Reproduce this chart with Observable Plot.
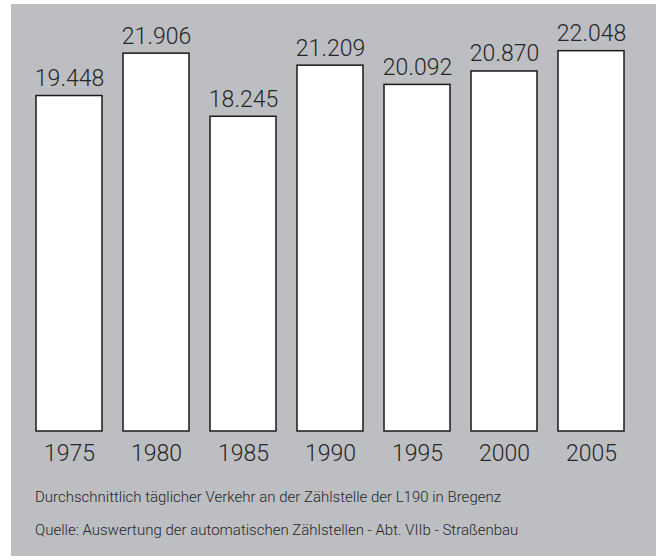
<!DOCTYPE html>
<html>
<head>
<meta charset="utf-8">
<script src="https://cdn.jsdelivr.net/npm/d3@7"></script>
<script src="https://cdn.jsdelivr.net/npm/@observablehq/plot@0.6"></script>
<style>
  html, body { margin: 0; padding: 0; background: #ffffff; }
  #panel {
    position: absolute; left: 11px; top: 4px; width: 645px; height: 552px;
    background: #bdbec2;
    font-family: Roboto, sans-serif;
    font-weight: 300;
    color: #262626;
  }
  #chart svg { display: block; }
  #chart text { font-weight: 300; }
  .cap { position: absolute; left: 24px; font-size: 15px; line-height: 1; }
</style>
</head>
<body>
<div id="panel">
  <div id="chart"></div>
  <div class="cap" style="top:486px">Durchschnittlich täglicher Verkehr an der Zählstelle der L190 in Bregenz</div>
  <div class="cap" style="top:519px">Quelle: Auswertung der automatischen Zählstellen - Abt. VIIb - Straßenbau</div>
</div>
<script>
const years = ["1975", "1980", "1985", "1990", "1995", "2000", "2005"];
const values = [19448, 21906, 18245, 21209, 20092, 20870, 22048];
const labels = ["19.448", "21.906", "18.245", "21.209", "20.092", "20.870", "22.048"];

const data = years.map((y, i) => ({year: y, value: values[i], label: labels[i]}));

const chart = Plot.plot({
  width: 645,
  height: 475,
  marginLeft: 1,
  marginRight: 7,
  marginTop: 13,
  marginBottom: 48,
  style: {background: "transparent", fontFamily: "Roboto, sans-serif"},
  x: {domain: years, padding: 0.24, axis: null},
  y: {domain: [0, 24000], axis: null},
  marks: [
    Plot.barY(data, {x: "year", y: "value", fill: "white", stroke: "#1a1a1a", strokeWidth: 1.5}),
    Plot.text(data, {x: "year", y: "value", text: "label", lineAnchor: "bottom", dy: -10,
      fontSize: 23, fontWeight: 300, fill: "#262626"}),
    Plot.text(data, {x: "year", y: 0, text: "year", lineAnchor: "top", dy: 13,
      fontSize: 23, fontWeight: 300, fill: "#262626"})
  ]
});
document.getElementById("chart").appendChild(chart);
</script>
</body>
</html>
